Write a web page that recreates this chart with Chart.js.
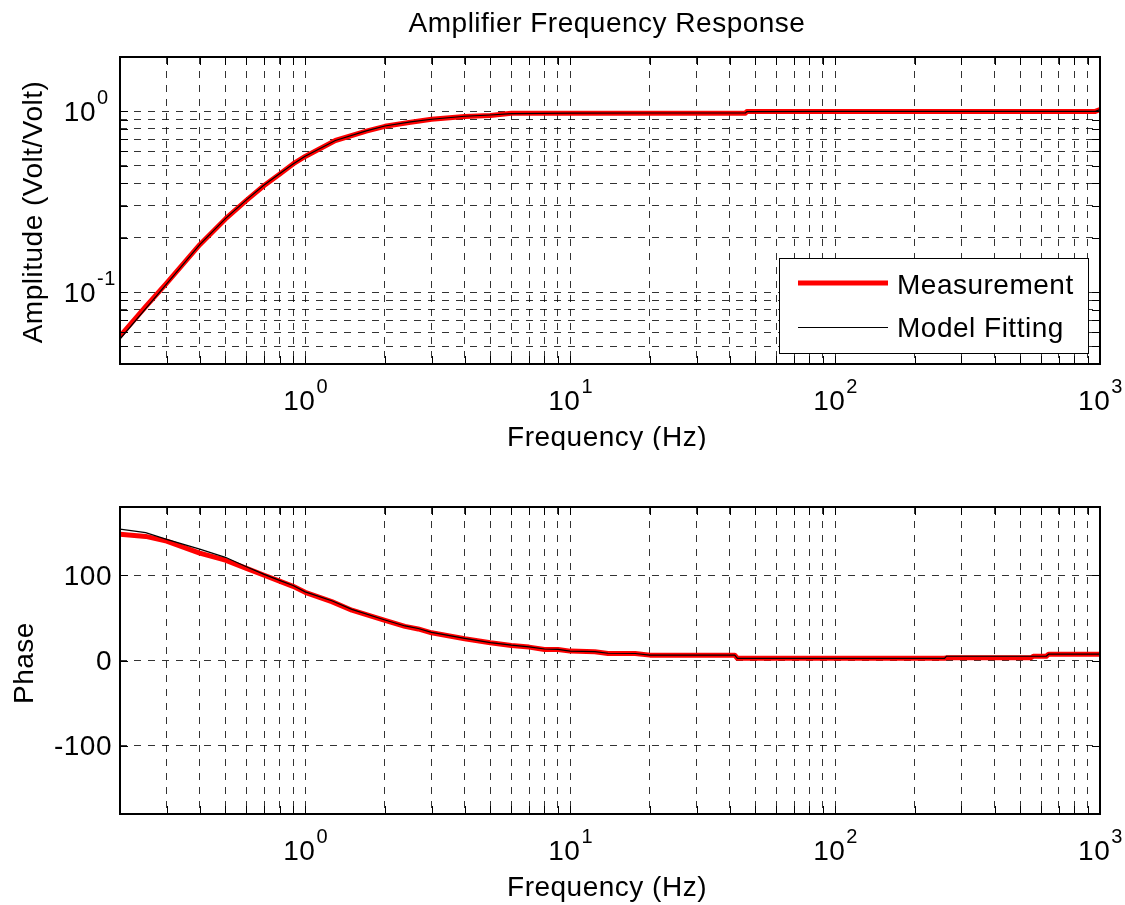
<!DOCTYPE html>
<html><head><meta charset="utf-8">
<script src="https://cdn.jsdelivr.net/npm/chart.js@4.4.1/dist/chart.umd.min.js"></script>
<style>
html,body{margin:0;padding:0;background:#fff;}
#wrap{position:relative;width:1125px;height:905px;background:#fff;}
.box{position:absolute;left:0;width:1125px;}
canvas{display:block;}
</style></head><body>
<div id="wrap">
<div class="box" style="top:0;height:450px"><canvas id="amp" width="1125" height="450"></canvas></div>
<div class="box" style="top:450px;height:455px"><canvas id="phase" width="1125" height="455"></canvas></div>
</div>
<script>
// ---- data ----
const ampFreq      = [0.2, 0.25, 0.3, 0.4, 0.5, 0.6, 0.7, 0.8, 0.9, 1.0, 1.3, 1.7, 2.0, 2.5, 3.0, 4.0, 5.0, 6.0, 10, 20, 45.9, 46.5, 100, 500, 960, 1000];
const ampMeasured  = [0.057, 0.083, 0.112, 0.183, 0.254, 0.322, 0.389, 0.449, 0.512, 0.563, 0.69, 0.778, 0.827, 0.87, 0.905, 0.938, 0.95, 0.978, 0.978, 0.978, 0.978, 1.0, 1.0, 1.0, 1.0, 1.025];
const ampModel     = [0.055, 0.081, 0.111, 0.183, 0.255, 0.324, 0.391, 0.452, 0.512, 0.565, 0.69, 0.78, 0.83, 0.875, 0.905, 0.94, 0.955, 0.972, 0.978, 0.98, 0.98, 0.998, 1.0, 1.0, 1.0, 1.022];

const phaseFreq     = [0.2, 0.25, 0.3, 0.4, 0.5, 0.6, 0.7, 0.8, 0.9, 1.0, 1.26, 1.5, 2.0, 2.38, 2.67, 3, 4, 5, 6, 7, 8, 9, 10, 12.4, 13.9, 17.6, 20, 41.8, 42.8, 259, 263, 549, 560, 627, 640, 1000];
const phaseMeasured = [148, 145.5, 140, 126, 117.6, 108, 100, 93, 87, 80, 69, 59, 47, 40, 37, 32.5, 25.5, 20.8, 17.6, 15.7, 13, 13, 11, 10.2, 8.2, 8.2, 6.3, 6.3, 2.5, 2.5, 3.2, 3.2, 5, 5, 7.4, 7.4];
const phaseModel    = [154, 150, 142, 130.6, 121, 110, 101, 94, 88, 80.5, 70, 60, 47.5, 40.5, 37.5, 33, 26, 21, 18, 16, 13.5, 13, 11, 10.5, 8.5, 8.2, 6.3, 6.3, 2.6, 2.6, 5, 5, 5, 5, 7.4, 7.4];

// grid / tick values
const freqGrid  = [0.2,0.3,0.4,0.5,0.6,0.7,0.8,0.9,1,2,3,4,5,6,7,8,9,10,20,30,40,50,60,70,80,90,100,200,300,400,500,600,700,800,900,1000];
const freqLabelValues = [1, 10, 100, 1000];
const freqLabelExps   = ['0', '1', '2', '3'];
const ampGrid   = [0.05,0.06,0.07,0.08,0.09,0.1,0.2,0.3,0.4,0.5,0.6,0.7,0.8,0.9,1,2];
const ampLabelValues = [0.1, 1];
const ampLabelExps   = ['-1', '0'];
const phaseTicks = [-100, 0, 100];

const chartTitle = 'Amplifier Frequency Response';
const xTitle = 'Frequency (Hz)';
const ampTitle = 'Amplitude (Volt/Volt)';
const phaseTitle = 'Phase';
const seriesNames = ['Measurement', 'Model Fitting'];

// ---- helpers ----
const FONT = '"Liberation Sans", Arial, Helvetica, sans-serif';
function setFont(ctx, px){ ctx.font = px + 'px ' + FONT; try{ ctx.letterSpacing = '0.5px'; }catch(e){} }
function txt(ctx, s, x, y, px, align){
  setFont(ctx, px); ctx.textAlign = align || 'left'; ctx.textBaseline = 'alphabetic';
  ctx.fillStyle = '#000'; ctx.fillText(s, x, y);
}
function powLabel(ctx, exp, x, y, mode){
  setFont(ctx, 28); const w1 = ctx.measureText('10').width;
  setFont(ctx, 20); const w2 = ctx.measureText(exp).width;
  const x0 = mode === 'center' ? x - (w1 + w2) / 2 : x - w1;
  txt(ctx, '10', x0, y, 28, 'left');
  txt(ctx, exp, x0 + w1 + 1, y - 17, 20, 'left');
}
function drawFrame(chart, xVals, yVals){
  const {ctx, chartArea: a, scales} = chart;
  ctx.save();
  ctx.strokeStyle = '#000'; ctx.lineWidth = 1; ctx.setLineDash([]);
  ctx.beginPath();
  xVals.forEach(v => {
    const p = Math.round(scales.x.getPixelForValue(v)) + 0.5;
    ctx.moveTo(p, a.bottom); ctx.lineTo(p, a.bottom - 8);
    ctx.moveTo(p, a.top); ctx.lineTo(p, a.top + 8);
  });
  yVals.forEach(v => {
    const p = Math.round(scales.y.getPixelForValue(v)) + 0.5;
    ctx.moveTo(a.left, p); ctx.lineTo(a.left + 8, p);
    ctx.moveTo(a.right, p); ctx.lineTo(a.right - 8, p);
  });
  ctx.stroke();
  ctx.lineWidth = 2;
  ctx.strokeRect(Math.round(a.left), Math.round(a.top), Math.round(a.right - a.left), Math.round(a.bottom - a.top));
  ctx.restore();
}
function gridOpts(){
  return {color: 'rgba(0,0,0,0.8)', lineWidth: 1, drawTicks: false, borderDash: [7, 7]};
}
function pts(xs, ys){ return xs.map((x, i) => ({x: x, y: ys[i]})); }

const commonX = {
  type: 'logarithmic', min: 0.2, max: 1000,
  afterBuildTicks: s => { s.ticks = freqGrid.map(v => ({value: v})); },
  ticks: {display: false},
  grid: gridOpts(),
  border: {display: false, dash: [7, 7]}
};

// ---- amplitude chart ----
const ampPlugin = {
  id: 'ampDecor',
  afterDraw(chart){
    const {ctx, scales} = chart;
    ctx.save();
    drawFrame(chart, freqGrid, ampGrid);
    txt(ctx, chartTitle, 607, 32, 28, 'center');
    txt(ctx, xTitle, 607, 446, 28, 'center');
    freqLabelValues.forEach((v, i) => powLabel(ctx, freqLabelExps[i], scales.x.getPixelForValue(v), 410, 'center'));
    ampLabelValues.forEach((v, i) => powLabel(ctx, ampLabelExps[i], 96, scales.y.getPixelForValue(v) + 9.5, 'right'));
    ctx.save();
    ctx.translate(42, 212); ctx.rotate(-Math.PI / 2);
    txt(ctx, ampTitle, 0, 0, 28, 'center');
    ctx.restore();
    // legend
    ctx.fillStyle = '#fff'; ctx.fillRect(779, 258, 309, 95);
    ctx.strokeStyle = '#000'; ctx.lineWidth = 1; ctx.setLineDash([]);
    ctx.strokeRect(779.5, 258.5, 309, 95);
    ctx.strokeStyle = '#ff0000'; ctx.lineWidth = 5;
    ctx.beginPath(); ctx.moveTo(798, 283); ctx.lineTo(888, 283); ctx.stroke();
    ctx.strokeStyle = '#000'; ctx.lineWidth = 1;
    ctx.beginPath(); ctx.moveTo(798, 327.5); ctx.lineTo(888, 327.5); ctx.stroke();
    txt(ctx, seriesNames[0], 897, 294, 28, 'left');
    txt(ctx, seriesNames[1], 897, 337, 28, 'left');
    ctx.restore();
  }
};

new Chart(document.getElementById('amp'), {
  type: 'line',
  data: {datasets: [
    {label: seriesNames[1], data: pts(ampFreq, ampModel), borderColor: '#000', borderWidth: 1.2, pointRadius: 0, tension: 0, order: 0},
    {label: seriesNames[0], data: pts(ampFreq, ampMeasured), borderColor: '#ff0000', borderWidth: 5, pointRadius: 0, tension: 0, borderJoinStyle: 'round', borderCapStyle: 'round', order: 1}
  ]},
  options: {
    responsive: false, animation: false, events: [],
    layout: {padding: {top: 57, right: 25, left: 0, bottom: 0}},
    plugins: {legend: {display: false}, tooltip: {enabled: false}, title: {display: false}},
    scales: {
      x: Object.assign({}, commonX, {afterFit: s => { s.height = 86; }}),
      y: {
        type: 'logarithmic', min: 0.04, max: 2,
        afterBuildTicks: s => { s.ticks = ampGrid.map(v => ({value: v})); },
        afterFit: s => { s.width = 120; },
        ticks: {display: false},
        grid: gridOpts(),
        border: {display: false, dash: [7, 7]}
      }
    }
  },
  plugins: [ampPlugin]
});

// ---- phase chart ----
const phasePlugin = {
  id: 'phaseDecor',
  afterDraw(chart){
    const {ctx, scales} = chart;
    ctx.save();
    drawFrame(chart, freqGrid, phaseTicks);
    txt(ctx, xTitle, 607, 446, 28, 'center');
    freqLabelValues.forEach((v, i) => powLabel(ctx, freqLabelExps[i], scales.x.getPixelForValue(v), 410, 'center'));
    phaseTicks.forEach(v => txt(ctx, String(v), 112, scales.y.getPixelForValue(v) + 9.5, 28, 'right'));
    ctx.save();
    ctx.translate(33, 213); ctx.rotate(-Math.PI / 2);
    txt(ctx, phaseTitle, 0, 0, 28, 'center');
    ctx.restore();
    ctx.restore();
  }
};

new Chart(document.getElementById('phase'), {
  type: 'line',
  data: {datasets: [
    {label: seriesNames[1], data: pts(phaseFreq, phaseModel), borderColor: '#000', borderWidth: 1.2, pointRadius: 0, tension: 0, order: 0},
    {label: seriesNames[0], data: pts(phaseFreq, phaseMeasured), borderColor: '#ff0000', borderWidth: 5, pointRadius: 0, tension: 0, borderJoinStyle: 'round', borderCapStyle: 'round', order: 1}
  ]},
  options: {
    responsive: false, animation: false, events: [],
    layout: {padding: {top: 57, right: 25, left: 0, bottom: 0}},
    plugins: {legend: {display: false}, tooltip: {enabled: false}, title: {display: false}},
    scales: {
      x: Object.assign({}, commonX, {afterFit: s => { s.height = 91; }}),
      y: {
        type: 'linear', min: -180, max: 180,
        afterBuildTicks: s => { s.ticks = phaseTicks.map(v => ({value: v})); },
        afterFit: s => { s.width = 120; },
        ticks: {display: false},
        grid: gridOpts(),
        border: {display: false, dash: [7, 7]}
      }
    }
  },
  plugins: [phasePlugin]
});
</script>
</body></html>
